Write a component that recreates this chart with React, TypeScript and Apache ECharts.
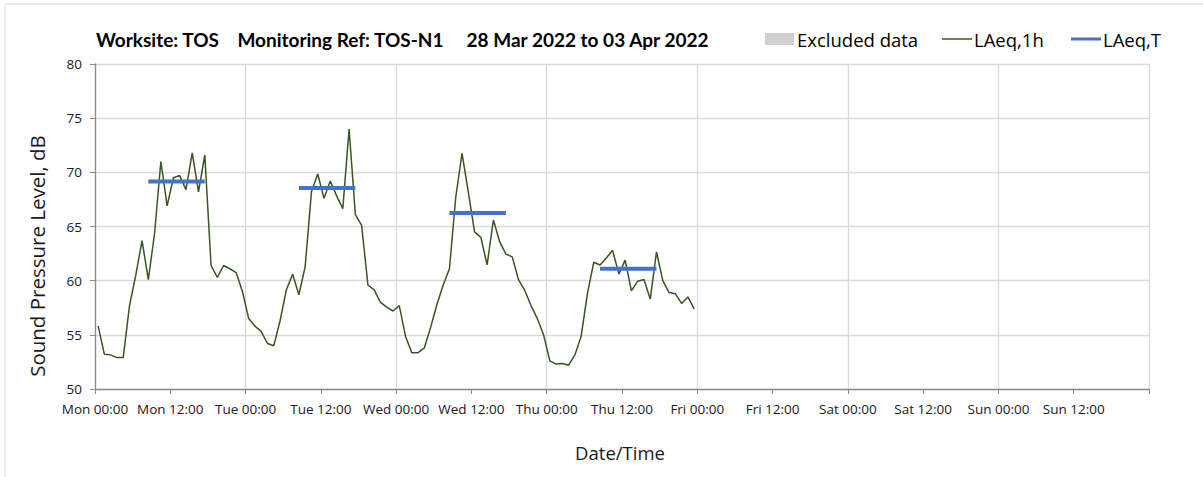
import React, { useEffect, useRef } from "react";
import * as echarts from "echarts";

const dayNames = ["Mon", "Tue", "Wed", "Thu", "Fri", "Sat", "Sun"];
const hourLabels = ["00:00", "12:00"];

// Hourly LAeq,1h values, Mon 00:00 onwards (plotted at mid-hour)
const laeq1h = [
  55.8, 53.2, 53.15, 52.9, 52.9, 57.7, 60.5, 63.7, 60.1, 64.4, 71.0, 66.9,
  69.5, 69.7, 68.4, 71.8, 68.2, 71.6, 61.4, 60.3, 61.4, 61.1, 60.75, 59.0,
  56.5, 55.8, 55.3, 54.2, 54.0, 56.3, 59.15, 60.6, 58.7, 61.3, 68.2, 69.85,
  67.6, 69.2, 67.85, 66.65, 74.0, 66.1, 65.1, 59.6, 59.15, 58.0, 57.55, 57.2,
  57.7, 54.85, 53.35, 53.35, 53.8, 55.7, 57.8, 59.6, 61.1, 67.7, 71.75, 68.2,
  64.5, 64.0, 61.45, 65.6, 63.6, 62.45, 62.2, 60.1, 59.1, 57.7, 56.5, 55.0,
  52.6, 52.3, 52.35, 52.2, 53.15, 54.9, 58.85, 61.7, 61.45, 62.1, 62.8, 60.6,
  61.9, 59.05, 59.95, 60.1, 58.3, 62.65, 60.0, 58.9, 58.8, 57.9, 58.5, 57.4,
];

// Daytime LAeq,T per day (08:00-18:00)
const laeqTDays = [0, 1, 2, 3];
const laeqTValues = [69.15, 68.55, 66.25, 61.1];
const laeqTStartHour = 8;
const laeqTEndHour = 17;

const titleText = "Worksite: TOS    Monitoring Ref: TOS-N1     28 Mar 2022 to 03 Apr 2022";
const yAxisTitle = "Sound Pressure Level, dB";
const xAxisTitle = "Date/Time";

export default function App() {
  const ref = useRef<HTMLDivElement>(null);

  useEffect(() => {
    if (!ref.current) return;
    const chart = echarts.init(ref.current, null, { renderer: "svg" });

    const lineData = laeq1h.map((v, i) => [i + 0.5, v]);
    const tSeries = laeqTDays.map((d, k) => ({
      name: "LAeq,T",
      type: "line",
      data: [
        [d * 24 + laeqTStartHour + 0.5, laeqTValues[k]],
        [d * 24 + laeqTEndHour + 0.5, laeqTValues[k]],
      ],
      showSymbol: false,
      symbol: "none",
      lineStyle: { color: "#4472C4", width: 4 },
      z: 3,
    }));

    const font = "'Open Sans', sans-serif";

    chart.setOption({
      animation: false,
      grid: { left: 95, top: 64, width: 1054, height: 325, containLabel: false },
      xAxis: {
        type: "value",
        min: 0,
        max: 168,
        interval: 12,
        axisLine: { lineStyle: { color: "#8c8c8c", width: 1.3 } },
        axisTick: { show: true, length: 5, lineStyle: { color: "#8c8c8c" } },
        axisLabel: {
          margin: 13,
          fontFamily: font,
          fontSize: 13.5,
          color: "#1a1a1a",
          formatter: (v: number) => {
            if (v >= 168) return "";
            const d = Math.floor(v / 24);
            const h = (v % 24) / 12;
            return dayNames[d] + " " + hourLabels[h];
          },
        },
        splitLine: {
          show: true,
          lineStyle: { color: ["#d9d9d9", "rgba(0,0,0,0)"], width: 1.3 },
        },
      },
      yAxis: {
        type: "value",
        min: 50,
        max: 80,
        interval: 5,
        axisLine: { show: true, lineStyle: { color: "#8c8c8c", width: 1.3 } },
        axisTick: { show: true, length: 5, lineStyle: { color: "#8c8c8c" } },
        axisLabel: { margin: 13, fontFamily: font, fontSize: 13.5, color: "#1a1a1a" },
        splitLine: { show: true, lineStyle: { color: "#d9d9d9", width: 1.3 } },
      },
      series: [
        {
          name: "LAeq,1h",
          type: "line",
          data: lineData,
          showSymbol: false,
          symbol: "none",
          lineStyle: { color: "#375623", width: 1.5 },
          z: 2,
        },
        ...tSeries,
      ],
      graphic: [
        {
          type: "rect",
          shape: { x: 5, y: 4, width: 1400, height: 700 },
          style: { fill: "none", stroke: "#d9d9d9", lineWidth: 1 },
          silent: true,
        },
        {
          type: "text",
          x: 96,
          y: 39,
          style: {
            text: titleText,
            fontFamily: "Lato, sans-serif",
            fontWeight: "bold",
            fontSize: 19,
            fill: "#000",
            textVerticalAlign: "middle",
          },
        },
        {
          type: "text",
          x: 37,
          y: 256,
          rotation: Math.PI / 2,
          style: {
            text: yAxisTitle,
            fontFamily: font,
            fontSize: 20.5,
            fill: "#1a1a1a",
            textAlign: "center",
            textVerticalAlign: "middle",
          },
        },
        {
          type: "text",
          x: 620,
          y: 452,
          style: {
            text: xAxisTitle,
            fontFamily: font,
            fontSize: 18.5,
            fill: "#1a1a1a",
            textAlign: "center",
            textVerticalAlign: "middle",
          },
        },
        {
          type: "rect",
          shape: { x: 765, y: 33, width: 29, height: 12 },
          style: { fill: "#d0d0d0" },
        },
        {
          type: "text",
          x: 797,
          y: 39,
          style: { text: "Excluded data", fontFamily: font, fontSize: 18.5, fill: "#000", textVerticalAlign: "middle" },
        },
        {
          type: "line",
          shape: { x1: 942, y1: 39, x2: 972, y2: 39 },
          style: { stroke: "#375623", lineWidth: 1.5 },
        },
        {
          type: "text",
          x: 974,
          y: 39,
          style: { text: "LAeq,1h", fontFamily: font, fontSize: 18.5, fill: "#000", textVerticalAlign: "middle" },
        },
        {
          type: "line",
          shape: { x1: 1071, y1: 39, x2: 1101, y2: 39 },
          style: { stroke: "#4472C4", lineWidth: 3 },
        },
        {
          type: "text",
          x: 1103,
          y: 39,
          style: { text: "LAeq,T", fontFamily: font, fontSize: 18.5, fill: "#000", textVerticalAlign: "middle" },
        },
      ],
    });

    return () => chart.dispose();
  }, []);

  return (
    <div
      ref={ref}
      style={{ position: "fixed", left: 0, top: 0, width: 1203, height: 477, background: "#fff" }}
    />
  );
}
